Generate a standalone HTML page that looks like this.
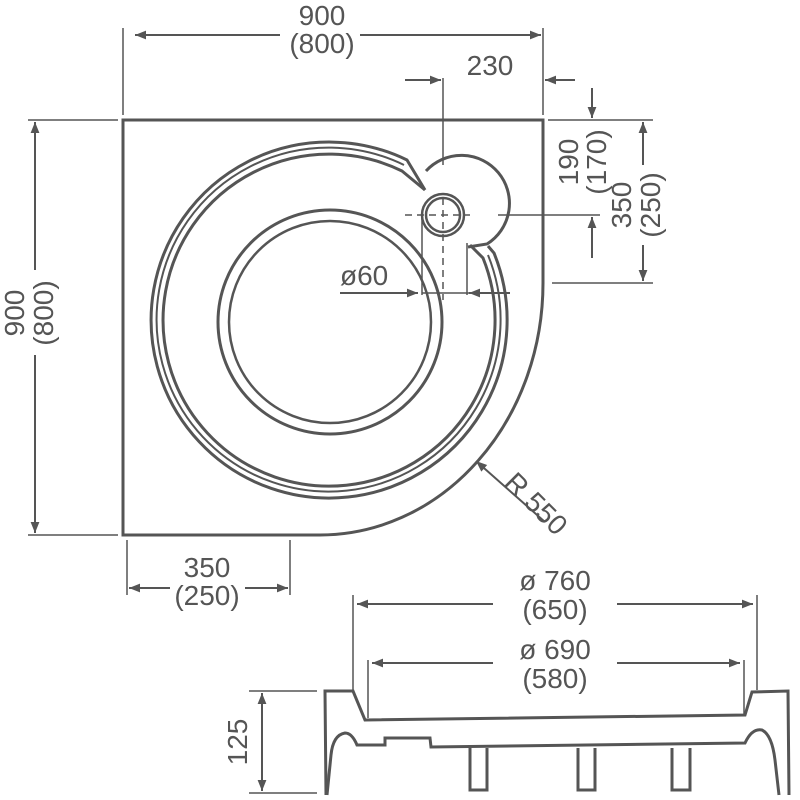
<!DOCTYPE html>
<html><head><meta charset="utf-8"><style>
html,body{margin:0;padding:0;background:#fff;}
svg{display:block}
text{font-family:"Liberation Sans",sans-serif;fill:#555;font-size:28px}
</style></head><body>
<svg width="800" height="800" viewBox="0 0 800 800" xmlns="http://www.w3.org/2000/svg">
<defs>
<marker id="a" viewBox="0 0 10 10" refX="10" refY="5" markerWidth="16" markerHeight="11" markerUnits="userSpaceOnUse" orient="auto-start-reverse"><path d="M0,1 L10,5 L0,9 z" fill="#555"/></marker>
</defs>
<g stroke="#555" fill="none">
<path d="M123,120 L543,120 L543,283 A223,252 0 0 1 320,535 L123,535 Z" stroke-width="3"/>
<path d="M425,190 L407,160 A178,178 0 1 0 494,253 L488,246" stroke-width="3"/>
<path d="M404,165 A172,172 0 1 0 488,255" stroke-width="2"/>
<path d="M425,190 L402,171 A166,166 0 1 0 483,258 L470,245" stroke-width="3"/>
<circle cx="330" cy="322" r="112" stroke-width="3"/>
<circle cx="330" cy="322" r="101" stroke-width="2.5"/>
<path d="M426,171 A48,48 0 1 1 487,244 L468,247" stroke-width="3"/>
<circle cx="443" cy="215" r="21" stroke-width="2.5"/>
<circle cx="443" cy="215" r="17" stroke-width="2.5"/>
<path d="M422,215 L422,295 M467,243 L467,295" stroke-width="1.5"/>
<path d="M443,198 L443,300 M405,215 L470,215" stroke-width="1.5" stroke-dasharray="7,5"/>
<path d="M443,78 L443,165 M498,215 L600,215" stroke-width="1.5"/>
<path d="M123,28 L123,115 M543,28 L543,115" stroke-width="1.5"/>
<path d="M135,35 L280,35" stroke-width="2" marker-start="url(#a)"/>
<path d="M360,35 L541,35" stroke-width="2" marker-end="url(#a)"/>
<path d="M28,120 L118,120 M28,535 L118,535" stroke-width="1.5"/>
<path d="M35,122 L35,270" stroke-width="2" marker-start="url(#a)"/>
<path d="M35,355 L35,533" stroke-width="2" marker-end="url(#a)"/>
<path d="M405,80 L441,80" stroke-width="2" marker-end="url(#a)"/>
<path d="M575,80 L545,80" stroke-width="2" marker-end="url(#a)"/>
<path d="M548,120 L653,120 M552,283 L653,283" stroke-width="1.5"/>
<path d="M592,88 L592,118" stroke-width="2" marker-end="url(#a)"/>
<path d="M592,258 L592,217" stroke-width="2" marker-end="url(#a)"/>
<path d="M643,165 L643,122" stroke-width="2" marker-end="url(#a)"/>
<path d="M643,245 L643,281" stroke-width="2" marker-end="url(#a)"/>
<path d="M340,293 L418,293" stroke-width="2" marker-end="url(#a)"/>
<path d="M422,293 L492,293" stroke-width="1.5"/>
<path d="M510,293 L469,293" stroke-width="2" marker-end="url(#a)"/>
<path d="M545,522 L476,461" stroke-width="2" marker-end="url(#a)"/>
<path d="M127,540 L127,595 M290,540 L290,595" stroke-width="1.5"/>
<path d="M170,588 L129,588" stroke-width="2" marker-end="url(#a)"/>
<path d="M245,588 L288,588" stroke-width="2" marker-end="url(#a)"/>
<path d="M353,595 L353,690 M757,595 L757,690 M368,660 L368,718 M744,660 L744,716" stroke-width="1.5"/>
<path d="M493,604 L357,604" stroke-width="2" marker-end="url(#a)"/>
<path d="M617,604 L753,604" stroke-width="2" marker-end="url(#a)"/>
<path d="M493,663 L372,663" stroke-width="2" marker-end="url(#a)"/>
<path d="M617,663 L740,663" stroke-width="2" marker-end="url(#a)"/>
<path d="M249,691 L317,691 M249,793 L317,793" stroke-width="1.5"/>
<path d="M262,742 L262,693" stroke-width="2" marker-end="url(#a)"/>
<path d="M262,742 L262,791" stroke-width="2" marker-end="url(#a)"/>
<path d="M326,795 L325,691 L353,691 L365,720 L745,715 L752,692 L788,691 L789,795" stroke-width="3"/>
<path d="M327,795 L331,755 Q333,735 345,733 Q352,733 357,745 L385,745 L385,738 L430,738 L431,747 L745,743 Q752,728 762,730 Q772,735 775,760 L779,795" stroke-width="3"/>
<path d="M470,748 L470,790 L487,790 L487,748 M578,748 L578,790 L595,790 L595,748 M672,748 L672,790 L690,790 L690,748" stroke-width="3"/>
</g>
<text x="322" y="25" text-anchor="middle">900</text>
<text x="322" y="53" text-anchor="middle">(800)</text>
<text x="490" y="75" text-anchor="middle">230</text>
<text transform="translate(24,313) rotate(-90)" text-anchor="middle">900</text>
<text transform="translate(53,313) rotate(-90)" text-anchor="middle">(800)</text>
<text transform="translate(578,162) rotate(-90)" text-anchor="middle">190</text>
<text transform="translate(606,162) rotate(-90)" text-anchor="middle">(170)</text>
<text transform="translate(631,205) rotate(-90)" text-anchor="middle">350</text>
<text transform="translate(660,205) rotate(-90)" text-anchor="middle">(250)</text>
<text x="340" y="285">ø60</text>
<text transform="translate(503,484) rotate(45)">R 550</text>
<text x="207" y="577" text-anchor="middle">350</text>
<text x="207" y="605" text-anchor="middle">(250)</text>
<text x="555" y="590" text-anchor="middle">ø 760</text>
<text x="555" y="619" text-anchor="middle">(650)</text>
<text x="555" y="659" text-anchor="middle">ø 690</text>
<text x="555" y="688" text-anchor="middle">(580)</text>
<text transform="translate(247,742) rotate(-90)" text-anchor="middle">125</text>
</svg>
</body></html>
